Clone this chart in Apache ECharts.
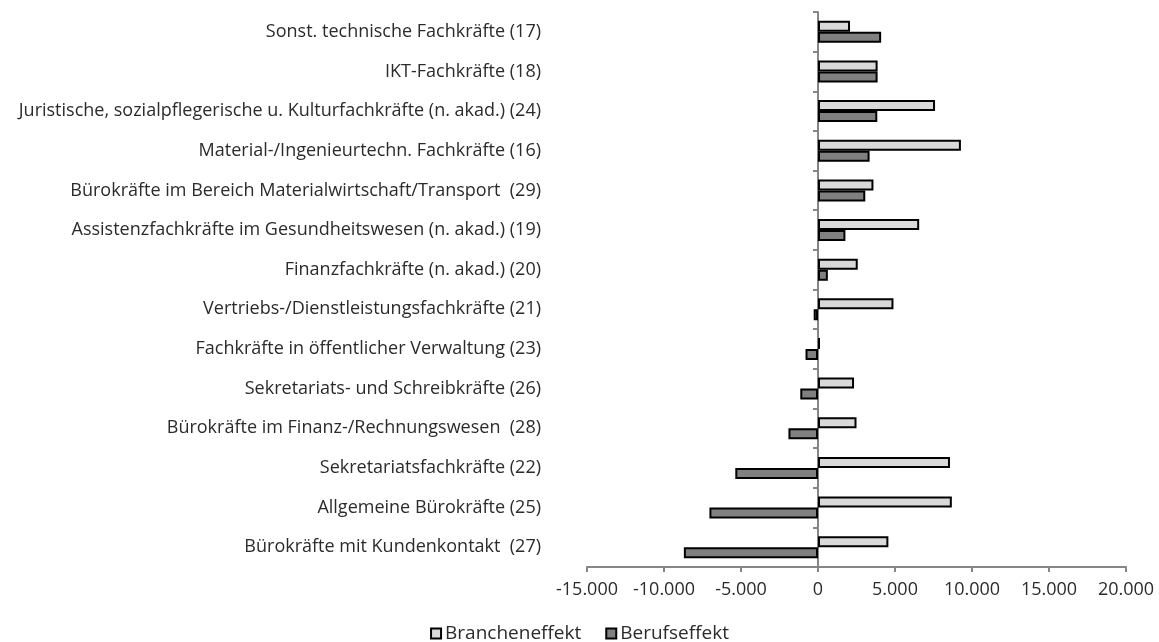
<!DOCTYPE html>
<html>
<head>
<meta charset="utf-8">
<script src="https://cdn.jsdelivr.net/npm/echarts@6/dist/echarts.min.js"></script>
<style>
  html, body { margin: 0; padding: 0; background: #fff; }
  #chart { width: 1159px; height: 642px; }
</style>
</head>
<body>
<div id="chart"></div>
<script>
// Occupation groups, listed top to bottom
const categories = [
  'Sonst. technische Fachkräfte (17)',
  'IKT-Fachkräfte (18)',
  'Juristische, sozialpflegerische u. Kulturfachkräfte (n. akad.) (24)',
  'Material-/Ingenieurtechn. Fachkräfte (16)',
  'Bürokräfte im Bereich Materialwirtschaft/Transport  (29)',
  'Assistenzfachkräfte im Gesundheitswesen (n. akad.) (19)',
  'Finanzfachkräfte (n. akad.) (20)',
  'Vertriebs-/Dienstleistungsfachkräfte (21)',
  'Fachkräfte in öffentlicher Verwaltung (23)',
  'Sekretariats- und Schreibkräfte (26)',
  'Bürokräfte im Finanz-/Rechnungswesen  (28)',
  'Sekretariatsfachkräfte (22)',
  'Allgemeine Bürokräfte (25)',
  'Bürokräfte mit Kundenkontakt  (27)'
];

const brancheneffekt = [2080, 3870, 7600, 9280, 3600, 6570, 2580, 4900, 130, 2340, 2500, 8570, 8690, 4570];
const berufseffekt   = [4100, 3870, 3850, 3350, 3070, 1780, 640, -280, -810, -1150, -1920, -5370, -7050, -8710];

const seriesNames = ['Brancheneffekt', 'Berufseffekt'];

const xMin = -15000, xMax = 20000, xStep = 5000;

// German thousands separator
function fmt(v) {
  const s = Math.abs(v).toString().replace(/\B(?=(\d{3})+(?!\d))/g, '.');
  return (v < 0 ? '-' : '') + s;
}

const FONT = 'Open Sans';
const TXT = '#2b2b2b';
const AXIS = '#868686';

const chart = echarts.init(document.getElementById('chart'));
chart.setOption({
  animation: false,
  backgroundColor: '#fff',
  textStyle: { fontFamily: FONT },
  grid: { left: 587, right: 33, top: 12, bottom: 75, containLabel: false },
  legend: {
    data: seriesNames,
    top: 619,
    left: 'center',
    itemWidth: 10,
    itemHeight: 10,
    itemGap: 24,
    icon: 'rect',
    textStyle: { fontFamily: FONT, fontSize: 19, color: TXT, padding: [0, 0, 0, -1] }
  },
  xAxis: {
    type: 'value',
    min: xMin,
    max: xMax,
    interval: xStep,
    splitLine: { show: false },
    axisLine: { show: true, lineStyle: { color: AXIS, width: 2 } },
    axisTick: { show: true, length: 5, lineStyle: { color: AXIS, width: 2 } },
    axisLabel: { color: TXT, fontSize: 18, fontFamily: FONT, margin: 14, formatter: fmt }
  },
  yAxis: [
    {
      // labels sit at the left edge of the plot
      type: 'category',
      data: categories,
      inverse: true,
      position: 'left',
      axisLine: { show: false, onZero: false },
      axisTick: { show: false },
      axisLabel: { color: TXT, fontSize: 18, fontFamily: FONT, margin: 46 }
    },
    {
      // zero line with category ticks
      type: 'category',
      data: categories,
      inverse: true,
      position: 'left',
      axisLine: { show: true, onZero: true, lineStyle: { color: AXIS, width: 2 } },
      axisTick: { show: true, length: 5, lineStyle: { color: AXIS, width: 2 } },
      axisLabel: { show: false }
    }
  ],
  series: [
    {
      name: seriesNames[0],
      type: 'bar',
      yAxisIndex: 0,
      data: brancheneffekt,
      barWidth: 11,
      barGap: '0%',
      itemStyle: { color: '#d9d9d9', borderColor: '#000', borderWidth: 2 }
    },
    {
      name: seriesNames[1],
      type: 'bar',
      yAxisIndex: 0,
      data: berufseffekt,
      barWidth: 11,
      barGap: '0%',
      itemStyle: { color: '#808080', borderColor: '#000', borderWidth: 2 }
    }
  ]
});
</script>
</body>
</html>
